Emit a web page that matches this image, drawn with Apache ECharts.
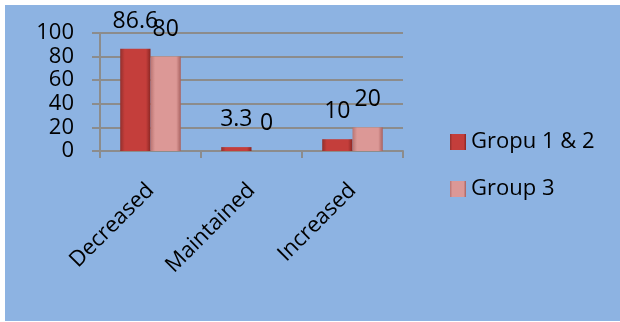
<!DOCTYPE html>
<html>
<head>
<meta charset="utf-8">
<script src="https://cdn.jsdelivr.net/npm/echarts@6/dist/echarts.min.js"></script>
<style>
html,body{margin:0;padding:0;background:#ffffff;}
#chart{width:620px;height:322px;}
</style>
</head>
<body>
<div id="chart"></div>
<script>
const categories = ['Decreased', 'Maintained', 'Increased'];
const seriesNames = ['Gropu 1 & 2', 'Group 3'];
const group12 = [86.6, 3.3, 10];
const group3 = [80, 0, 20];
const yTicks = [0, 20, 40, 60, 80, 100];

const FONT = '"Open Sans", sans-serif';
const chart = echarts.init(document.getElementById('chart'), null, {renderer: 'canvas'});

function grad(edgeL, mid, edgeR) {
  return new echarts.graphic.LinearGradient(0, 0, 1, 0, [
    {offset: 0, color: edgeL},
    {offset: 0.15, color: mid},
    {offset: 0.85, color: mid},
    {offset: 1, color: edgeR}
  ]);
}

const labelCfg = {
  show: true,
  position: 'top',
  distance: 16,
  color: '#000',
  fontFamily: FONT,
  fontSize: 23
};

chart.setOption({
  backgroundColor: '#ffffff',
  animation: false,
  graphic: [{
    type: 'rect',
    left: 5, top: 5,
    shape: {width: 615, height: 316},
    style: {fill: '#8db3e2'},
    z: -10
  }],
  grid: {left: 100, right: 217, top: 33, bottom: 171},
  legend: {
    orient: 'vertical',
    left: 445, top: 126,
    itemWidth: 16, itemHeight: 16,
    itemGap: 25,
    icon: 'rect',
    textStyle: {fontFamily: FONT, fontSize: 22, color: '#000'},
    data: seriesNames
  },
  xAxis: {
    type: 'category',
    data: categories,
    axisLine: {show: true, lineStyle: {color: '#8c8c8c', width: 2}},
    axisTick: {show: true, length: 7, lineStyle: {color: '#8c8c8c', width: 2}},
    axisLabel: {rotate: 45, margin: 36, color: '#000', fontFamily: FONT, fontSize: 22}
  },
  yAxis: {
    type: 'value',
    min: yTicks[0], max: yTicks[yTicks.length - 1], interval: yTicks[1] - yTicks[0],
    axisLine: {show: true, lineStyle: {color: '#8c8c8c', width: 2}},
    axisTick: {show: true, length: 8, lineStyle: {color: '#8c8c8c', width: 2}},
    splitLine: {show: true, lineStyle: {color: '#8c8c8c', width: 2}},
    axisLabel: {margin: 26, color: '#000', fontFamily: FONT, fontSize: 22}
  },
  series: [
    {
      name: seriesNames[0], type: 'bar', data: group12,
      barGap: '0%', barCategoryGap: '40%',
      itemStyle: {color: grad('#92302d', '#c43e3b', '#8a2623')},
      label: labelCfg
    },
    {
      name: seriesNames[1], type: 'bar', data: group3,
      barGap: '0%', barCategoryGap: '40%',
      itemStyle: {color: grad('#b97472', '#dc9896', '#a8615f')},
      label: labelCfg
    }
  ]
});
</script>
</body>
</html>
